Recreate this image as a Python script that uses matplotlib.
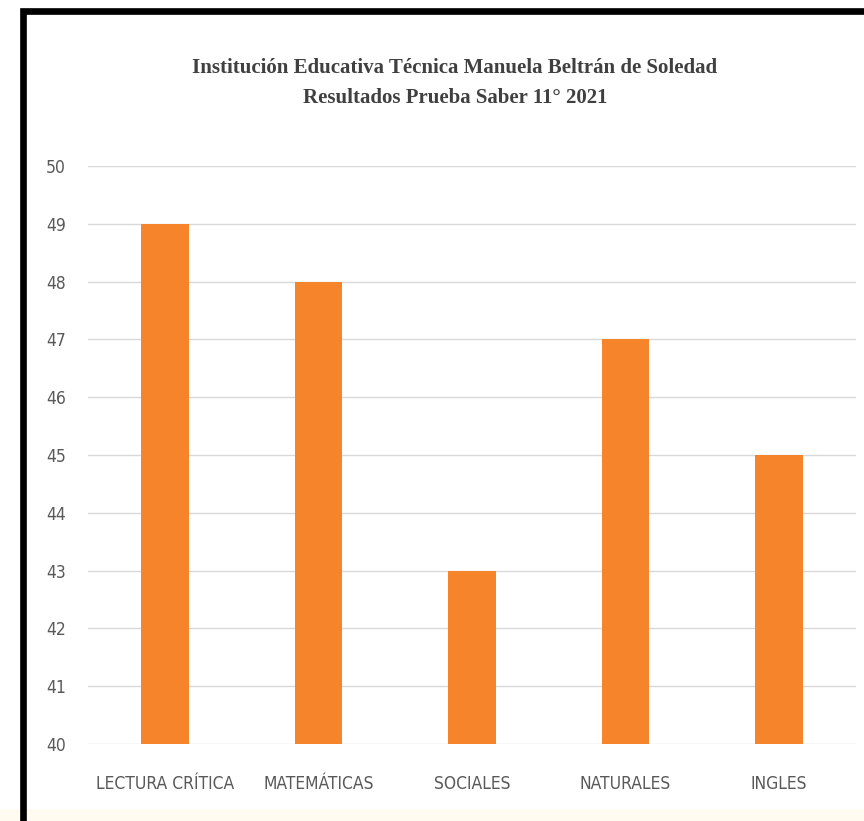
import matplotlib
matplotlib.use('Agg')

import matplotlib.pyplot as plt
from matplotlib.patches import Rectangle

# data
categories = ['LECTURA CRÍTICA', 'MATEMÁTICAS', 'SOCIALES', 'NATURALES', 'INGLES']
scores = [49, 48, 43, 47, 45]
y_ticks = [40, 41, 42, 43, 44, 45, 46, 47, 48, 49, 50]
title_lines = ['Institución Educativa Técnica Manuela Beltrán de Soledad',
               'Resultados Prueba Saber 11° 2021']

W, H, DPI = 864, 821, 100
fig = plt.figure(figsize=(W / DPI, H / DPI), dpi=DPI, facecolor='white')

# plot area in pixels of the reference
left, right, top, bottom = 88, 856, 166, 744
ax = fig.add_axes([left / W, 1 - bottom / H, (right - left) / W, (bottom - top) / H])

x = range(len(categories))
ax.bar(x, scores, width=0.31, color='#F5842B', zorder=3)

ax.set_xlim(-0.5, len(categories) - 0.5)
ax.set_ylim(40, 50)
ax.set_yticks(y_ticks)
ax.set_xticks(list(x))
ax.set_xticklabels(categories)

label_font = dict(family=['DejaVu Sans'], fontstretch='condensed', color='#595959')
for lab in ax.get_xticklabels():
    lab.set(fontsize=12.5, **label_font)
for lab in ax.get_yticklabels():
    lab.set(fontsize=12.5, **label_font)

ax.tick_params(axis='both', length=0)
ax.tick_params(axis='y', pad=16)
ax.tick_params(axis='x', pad=22)
ax.grid(axis='y', color='#D9D9D9', linewidth=1.0, zorder=0)
ax.set_axisbelow(True)
for s in ax.spines.values():
    s.set_visible(False)

# two-line title
title_font = dict(family=['Liberation Serif', 'DejaVu Serif'], fontweight='bold',
                  color='#404040', ha='center', va='baseline')
fig.text(455 / W, 1 - 73 / H, title_lines[0], fontsize=15, **title_font)
fig.text(455 / W, 1 - 103 / H, title_lines[1], fontsize=15, **title_font)

# faint cream strip at the bottom and the black frame (cut off right/bottom)
fig.add_artist(Rectangle((0, 0), 1, 12 / H, transform=fig.transFigure,
                         facecolor='#FFFBF0', edgecolor='none', zorder=0))
fig.add_artist(Rectangle((23 / W, -0.1), 1.2, 1.1 - 11.5 / H, transform=fig.transFigure,
                         facecolor='none', edgecolor='black', linewidth=4.8, zorder=5))

fig.savefig('out.png', dpi=DPI, facecolor='white')
